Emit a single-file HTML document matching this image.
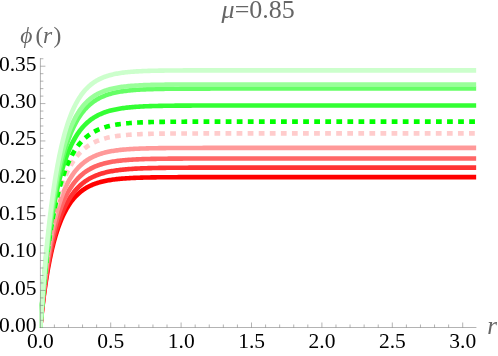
<!DOCTYPE html>
<html><head><meta charset="utf-8"><title>plot</title>
<style>html,body{margin:0;padding:0;background:#fff;}svg{display:block;will-change:transform;}text{font-family:"Liberation Serif",serif;}</style>
</head><body>
<svg width="498" height="356" viewBox="0 0 498 356">
<rect width="498" height="356" fill="#fff"/>
<defs><clipPath id="c"><rect x="39" y="0" width="437.4" height="328"/></clipPath></defs>
<g clip-path="url(#c)" fill="none" stroke-linejoin="round">
<path d="M40.30,327.80 L40.30,327.78 L40.31,327.73 L40.32,327.62 L40.33,327.46 L40.35,327.24 L40.38,326.96 L40.41,326.63 L40.45,326.23 L40.49,325.77 L40.55,325.24 L40.60,324.65 L40.67,324.00 L40.74,323.29 L40.81,322.51 L40.90,321.66 L40.99,320.75 L41.09,319.79 L41.19,318.76 L41.31,317.67 L41.43,316.52 L41.56,315.31 L41.69,314.05 L41.83,312.73 L41.98,311.36 L42.14,309.94 L42.31,308.47 L42.48,306.96 L42.66,305.40 L42.85,303.80 L43.05,302.16 L43.26,300.48 L43.47,298.76 L43.69,297.02 L43.92,295.24 L44.16,293.43 L44.41,291.60 L44.66,289.74 L44.93,287.86 L45.20,285.97 L45.48,284.05 L45.77,282.12 L46.07,280.18 L46.38,278.23 L46.69,276.28 L47.01,274.31 L47.35,272.34 L47.69,270.37 L48.04,268.40 L48.40,266.43 L48.77,264.47 L49.14,262.51 L49.53,260.56 L49.92,258.62 L50.33,256.68 L50.74,254.76 L51.16,252.85 L51.59,250.95 L52.03,249.08 L52.48,247.21 L52.94,245.37 L53.41,243.54 L53.89,241.73 L54.38,239.95 L54.87,238.18 L55.38,236.44 L55.89,234.72 L56.42,233.03 L56.95,231.36 L57.49,229.71 L58.05,228.10 L58.61,226.50 L59.18,224.94 L59.76,223.40 L60.36,221.89 L60.96,220.41 L61.57,218.96 L62.19,217.54 L62.82,216.14 L63.46,214.78 L64.11,213.44 L64.77,212.14 L65.44,210.86 L66.12,209.62 L66.81,208.40 L67.50,207.22 L68.21,206.06 L68.93,204.94 L69.66,203.84 L70.40,202.78 L71.15,201.74 L71.91,200.73 L72.68,199.75 L73.46,198.81 L74.25,197.88 L75.05,196.99 L75.86,196.13 L76.68,195.29 L77.51,194.48 L78.35,193.70 L79.20,192.95 L80.06,192.22 L80.93,191.51 L81.81,190.83 L82.70,190.18 L83.60,189.55 L84.52,188.94 L85.44,188.36 L86.37,187.80 L87.32,187.26 L88.27,186.74 L89.24,186.25 L90.21,185.77 L91.20,185.32 L92.19,184.88 L93.20,184.47 L94.22,184.07 L95.25,183.69 L96.28,183.32 L97.33,182.98 L98.39,182.65 L99.46,182.33 L100.54,182.03 L101.64,181.75 L102.74,181.47 L103.85,181.22 L104.97,180.97 L106.11,180.74 L107.25,180.52 L108.41,180.31 L109.58,180.11 L110.76,179.92 L111.94,179.74 L113.14,179.58 L114.35,179.42 L115.58,179.27 L116.81,179.13 L118.05,178.99 L119.30,178.87 L120.57,178.75 L121.85,178.64 L123.13,178.53 L124.43,178.44 L125.74,178.34 L127.06,178.26 L128.39,178.18 L129.73,178.10 L131.09,178.03 L132.45,177.96 L133.83,177.90 L135.21,177.84 L136.61,177.79 L138.02,177.74 L139.44,177.69 L140.87,177.64 L142.31,177.60 L143.76,177.56 L145.23,177.53 L146.71,177.50 L148.19,177.46 L149.69,177.44 L151.20,177.41 L152.72,177.38 L154.25,177.36 L155.80,177.34 L157.35,177.32 L158.92,177.30 L160.50,177.29 L162.09,177.27 L163.69,177.26 L165.30,177.24 L166.92,177.23 L168.56,177.22 L170.20,177.21 L171.86,177.20 L173.53,177.19 L175.21,177.18 L176.90,177.18 L178.61,177.17 L180.32,177.16 L182.05,177.16 L183.79,177.15 L185.54,177.15 L187.30,177.14 L189.07,177.14 L190.86,177.14 L192.65,177.13 L194.46,177.13 L196.28,177.13 L198.11,177.12 L199.95,177.12 L201.81,177.12 L203.67,177.12 L205.55,177.12 L207.44,177.11 L209.34,177.11 L211.26,177.11 L213.18,177.11 L215.12,177.11 L217.06,177.11 L219.03,177.11 L221.00,177.11 L222.98,177.11 L224.98,177.11 L226.98,177.10 L229.00,177.10 L231.03,177.10 L233.08,177.10 L235.13,177.10 L237.20,177.10 L239.28,177.10 L241.37,177.10 L243.47,177.10 L245.58,177.10 L247.71,177.10 L249.85,177.10 L252.00,177.10 L254.16,177.10 L256.33,177.10 L258.52,177.10 L260.72,177.10 L262.93,177.10 L265.15,177.10 L267.39,177.10 L269.63,177.10 L271.89,177.10 L274.16,177.10 L276.44,177.10 L278.74,177.10 L281.05,177.10 L283.36,177.10 L285.69,177.10 L288.04,177.10 L290.39,177.10 L292.76,177.10 L295.14,177.10 L297.53,177.10 L299.94,177.10 L302.35,177.10 L304.78,177.10 L307.22,177.10 L309.67,177.10 L312.14,177.10 L314.62,177.10 L317.11,177.10 L319.61,177.10 L322.12,177.10 L324.65,177.10 L327.19,177.10 L329.74,177.10 L332.30,177.10 L334.88,177.10 L337.47,177.10 L340.07,177.10 L342.68,177.10 L345.31,177.10 L347.94,177.10 L350.59,177.10 L353.26,177.10 L355.93,177.10 L358.62,177.10 L361.32,177.10 L364.03,177.10 L366.75,177.10 L369.49,177.10 L372.24,177.10 L375.00,177.10 L377.78,177.10 L380.56,177.10 L383.36,177.10 L386.18,177.10 L389.00,177.10 L391.84,177.10 L394.69,177.10 L397.55,177.10 L400.42,177.10 L403.31,177.10 L406.21,177.10 L409.12,177.10 L412.05,177.10 L414.99,177.10 L417.94,177.10 L420.90,177.10 L423.87,177.10 L426.86,177.10 L429.86,177.10 L432.88,177.10 L435.90,177.10 L438.94,177.10 L441.99,177.10 L445.06,177.10 L448.13,177.10 L451.22,177.10 L454.33,177.10 L457.44,177.10 L460.57,177.10 L463.71,177.10 L466.86,177.10 L470.03,177.10 L473.21,177.10 L476.40,177.10" stroke="rgb(255,0,0)" stroke-width="4.6"/>
<path d="M40.30,327.80 L40.30,327.78 L40.31,327.72 L40.32,327.61 L40.33,327.44 L40.35,327.21 L40.38,326.92 L40.41,326.57 L40.45,326.15 L40.49,325.67 L40.55,325.12 L40.60,324.51 L40.67,323.82 L40.74,323.08 L40.81,322.26 L40.90,321.38 L40.99,320.43 L41.09,319.41 L41.19,318.34 L41.31,317.19 L41.43,315.99 L41.56,314.73 L41.69,313.41 L41.83,312.03 L41.98,310.60 L42.14,309.12 L42.31,307.58 L42.48,306.00 L42.66,304.37 L42.85,302.70 L43.05,300.98 L43.26,299.23 L43.47,297.44 L43.69,295.61 L43.92,293.76 L44.16,291.87 L44.41,289.96 L44.66,288.02 L44.93,286.07 L45.20,284.09 L45.48,282.09 L45.77,280.08 L46.07,278.06 L46.38,276.03 L46.69,273.99 L47.01,271.95 L47.35,269.90 L47.69,267.85 L48.04,265.80 L48.40,263.75 L48.77,261.71 L49.14,259.67 L49.53,257.64 L49.92,255.62 L50.33,253.61 L50.74,251.61 L51.16,249.62 L51.59,247.65 L52.03,245.70 L52.48,243.76 L52.94,241.84 L53.41,239.94 L53.89,238.06 L54.38,236.20 L54.87,234.36 L55.38,232.55 L55.89,230.75 L56.42,228.99 L56.95,227.24 L57.49,225.53 L58.05,223.83 L58.61,222.17 L59.18,220.53 L59.76,218.92 L60.36,217.34 L60.96,215.78 L61.57,214.26 L62.19,212.76 L62.82,211.29 L63.46,209.85 L64.11,208.44 L64.77,207.05 L65.44,205.70 L66.12,204.38 L66.81,203.08 L67.50,201.82 L68.21,200.59 L68.93,199.38 L69.66,198.21 L70.40,197.06 L71.15,195.94 L71.91,194.86 L72.68,193.80 L73.46,192.77 L74.25,191.77 L75.05,190.80 L75.86,189.85 L76.68,188.93 L77.51,188.04 L78.35,187.18 L79.20,186.35 L80.06,185.54 L80.93,184.76 L81.81,184.00 L82.70,183.27 L83.60,182.56 L84.52,181.88 L85.44,181.22 L86.37,180.59 L87.32,179.98 L88.27,179.39 L89.24,178.82 L90.21,178.27 L91.20,177.75 L92.19,177.25 L93.20,176.76 L94.22,176.30 L95.25,175.86 L96.28,175.43 L97.33,175.02 L98.39,174.63 L99.46,174.26 L100.54,173.90 L101.64,173.56 L102.74,173.23 L103.85,172.92 L104.97,172.62 L106.11,172.34 L107.25,172.07 L108.41,171.82 L109.58,171.57 L110.76,171.34 L111.94,171.12 L113.14,170.91 L114.35,170.71 L115.58,170.53 L116.81,170.35 L118.05,170.18 L119.30,170.02 L120.57,169.87 L121.85,169.72 L123.13,169.59 L124.43,169.46 L125.74,169.34 L127.06,169.23 L128.39,169.12 L129.73,169.02 L131.09,168.93 L132.45,168.84 L133.83,168.75 L135.21,168.67 L136.61,168.60 L138.02,168.53 L139.44,168.47 L140.87,168.40 L142.31,168.35 L143.76,168.29 L145.23,168.24 L146.71,168.20 L148.19,168.15 L149.69,168.11 L151.20,168.08 L152.72,168.04 L154.25,168.01 L155.80,167.98 L157.35,167.95 L158.92,167.92 L160.50,167.90 L162.09,167.87 L163.69,167.85 L165.30,167.83 L166.92,167.81 L168.56,167.80 L170.20,167.78 L171.86,167.77 L173.53,167.75 L175.21,167.74 L176.90,167.73 L178.61,167.72 L180.32,167.71 L182.05,167.70 L183.79,167.69 L185.54,167.68 L187.30,167.68 L189.07,167.67 L190.86,167.66 L192.65,167.66 L194.46,167.65 L196.28,167.65 L198.11,167.64 L199.95,167.64 L201.81,167.64 L203.67,167.63 L205.55,167.63 L207.44,167.63 L209.34,167.62 L211.26,167.62 L213.18,167.62 L215.12,167.62 L217.06,167.62 L219.03,167.61 L221.00,167.61 L222.98,167.61 L224.98,167.61 L226.98,167.61 L229.00,167.61 L231.03,167.61 L233.08,167.61 L235.13,167.61 L237.20,167.61 L239.28,167.61 L241.37,167.60 L243.47,167.60 L245.58,167.60 L247.71,167.60 L249.85,167.60 L252.00,167.60 L254.16,167.60 L256.33,167.60 L258.52,167.60 L260.72,167.60 L262.93,167.60 L265.15,167.60 L267.39,167.60 L269.63,167.60 L271.89,167.60 L274.16,167.60 L276.44,167.60 L278.74,167.60 L281.05,167.60 L283.36,167.60 L285.69,167.60 L288.04,167.60 L290.39,167.60 L292.76,167.60 L295.14,167.60 L297.53,167.60 L299.94,167.60 L302.35,167.60 L304.78,167.60 L307.22,167.60 L309.67,167.60 L312.14,167.60 L314.62,167.60 L317.11,167.60 L319.61,167.60 L322.12,167.60 L324.65,167.60 L327.19,167.60 L329.74,167.60 L332.30,167.60 L334.88,167.60 L337.47,167.60 L340.07,167.60 L342.68,167.60 L345.31,167.60 L347.94,167.60 L350.59,167.60 L353.26,167.60 L355.93,167.60 L358.62,167.60 L361.32,167.60 L364.03,167.60 L366.75,167.60 L369.49,167.60 L372.24,167.60 L375.00,167.60 L377.78,167.60 L380.56,167.60 L383.36,167.60 L386.18,167.60 L389.00,167.60 L391.84,167.60 L394.69,167.60 L397.55,167.60 L400.42,167.60 L403.31,167.60 L406.21,167.60 L409.12,167.60 L412.05,167.60 L414.99,167.60 L417.94,167.60 L420.90,167.60 L423.87,167.60 L426.86,167.60 L429.86,167.60 L432.88,167.60 L435.90,167.60 L438.94,167.60 L441.99,167.60 L445.06,167.60 L448.13,167.60 L451.22,167.60 L454.33,167.60 L457.44,167.60 L460.57,167.60 L463.71,167.60 L466.86,167.60 L470.03,167.60 L473.21,167.60 L476.40,167.60" stroke="rgb(255,51,51)" stroke-width="4.6"/>
<path d="M40.30,327.80 L40.30,327.78 L40.31,327.71 L40.32,327.59 L40.33,327.41 L40.35,327.16 L40.38,326.84 L40.41,326.46 L40.45,326.00 L40.49,325.48 L40.55,324.88 L40.60,324.21 L40.67,323.46 L40.74,322.65 L40.81,321.76 L40.90,320.80 L40.99,319.76 L41.09,318.66 L41.19,317.48 L41.31,316.24 L41.43,314.94 L41.56,313.56 L41.69,312.13 L41.83,310.63 L41.98,309.08 L42.14,307.47 L42.31,305.80 L42.48,304.08 L42.66,302.32 L42.85,300.50 L43.05,298.65 L43.26,296.75 L43.47,294.81 L43.69,292.84 L43.92,290.83 L44.16,288.79 L44.41,286.73 L44.66,284.64 L44.93,282.53 L45.20,280.40 L45.48,278.25 L45.77,276.08 L46.07,273.91 L46.38,271.73 L46.69,269.53 L47.01,267.34 L47.35,265.14 L47.69,262.94 L48.04,260.75 L48.40,258.55 L48.77,256.37 L49.14,254.19 L49.53,252.02 L49.92,249.86 L50.33,247.71 L50.74,245.58 L51.16,243.46 L51.59,241.36 L52.03,239.28 L52.48,237.22 L52.94,235.18 L53.41,233.16 L53.89,231.17 L54.38,229.19 L54.87,227.24 L55.38,225.32 L55.89,223.43 L56.42,221.56 L56.95,219.72 L57.49,217.90 L58.05,216.12 L58.61,214.36 L59.18,212.64 L59.76,210.94 L60.36,209.27 L60.96,207.64 L61.57,206.04 L62.19,204.46 L62.82,202.92 L63.46,201.41 L64.11,199.94 L64.77,198.49 L65.44,197.08 L66.12,195.70 L66.81,194.35 L67.50,193.04 L68.21,191.75 L68.93,190.50 L69.66,189.28 L70.40,188.09 L71.15,186.94 L71.91,185.81 L72.68,184.72 L73.46,183.66 L74.25,182.63 L75.05,181.63 L75.86,180.65 L76.68,179.71 L77.51,178.80 L78.35,177.92 L79.20,177.06 L80.06,176.24 L80.93,175.44 L81.81,174.67 L82.70,173.93 L83.60,173.21 L84.52,172.52 L85.44,171.85 L86.37,171.21 L87.32,170.59 L88.27,170.00 L89.24,169.43 L90.21,168.88 L91.20,168.35 L92.19,167.85 L93.20,167.37 L94.22,166.90 L95.25,166.46 L96.28,166.04 L97.33,165.63 L98.39,165.24 L99.46,164.87 L100.54,164.52 L101.64,164.18 L102.74,163.86 L103.85,163.56 L104.97,163.27 L106.11,162.99 L107.25,162.73 L108.41,162.48 L109.58,162.24 L110.76,162.02 L111.94,161.80 L113.14,161.60 L114.35,161.41 L115.58,161.23 L116.81,161.06 L118.05,160.89 L119.30,160.74 L120.57,160.60 L121.85,160.46 L123.13,160.33 L124.43,160.21 L125.74,160.10 L127.06,159.99 L128.39,159.89 L129.73,159.79 L131.09,159.70 L132.45,159.62 L133.83,159.54 L135.21,159.47 L136.61,159.40 L138.02,159.34 L139.44,159.28 L140.87,159.22 L142.31,159.17 L143.76,159.12 L145.23,159.07 L146.71,159.03 L148.19,158.99 L149.69,158.95 L151.20,158.92 L152.72,158.89 L154.25,158.86 L155.80,158.83 L157.35,158.80 L158.92,158.78 L160.50,158.76 L162.09,158.74 L163.69,158.72 L165.30,158.70 L166.92,158.68 L168.56,158.67 L170.20,158.65 L171.86,158.64 L173.53,158.63 L175.21,158.62 L176.90,158.61 L178.61,158.60 L180.32,158.59 L182.05,158.58 L183.79,158.57 L185.54,158.57 L187.30,158.56 L189.07,158.56 L190.86,158.55 L192.65,158.55 L194.46,158.54 L196.28,158.54 L198.11,158.54 L199.95,158.53 L201.81,158.53 L203.67,158.53 L205.55,158.52 L207.44,158.52 L209.34,158.52 L211.26,158.52 L213.18,158.52 L215.12,158.51 L217.06,158.51 L219.03,158.51 L221.00,158.51 L222.98,158.51 L224.98,158.51 L226.98,158.51 L229.00,158.51 L231.03,158.51 L233.08,158.51 L235.13,158.51 L237.20,158.50 L239.28,158.50 L241.37,158.50 L243.47,158.50 L245.58,158.50 L247.71,158.50 L249.85,158.50 L252.00,158.50 L254.16,158.50 L256.33,158.50 L258.52,158.50 L260.72,158.50 L262.93,158.50 L265.15,158.50 L267.39,158.50 L269.63,158.50 L271.89,158.50 L274.16,158.50 L276.44,158.50 L278.74,158.50 L281.05,158.50 L283.36,158.50 L285.69,158.50 L288.04,158.50 L290.39,158.50 L292.76,158.50 L295.14,158.50 L297.53,158.50 L299.94,158.50 L302.35,158.50 L304.78,158.50 L307.22,158.50 L309.67,158.50 L312.14,158.50 L314.62,158.50 L317.11,158.50 L319.61,158.50 L322.12,158.50 L324.65,158.50 L327.19,158.50 L329.74,158.50 L332.30,158.50 L334.88,158.50 L337.47,158.50 L340.07,158.50 L342.68,158.50 L345.31,158.50 L347.94,158.50 L350.59,158.50 L353.26,158.50 L355.93,158.50 L358.62,158.50 L361.32,158.50 L364.03,158.50 L366.75,158.50 L369.49,158.50 L372.24,158.50 L375.00,158.50 L377.78,158.50 L380.56,158.50 L383.36,158.50 L386.18,158.50 L389.00,158.50 L391.84,158.50 L394.69,158.50 L397.55,158.50 L400.42,158.50 L403.31,158.50 L406.21,158.50 L409.12,158.50 L412.05,158.50 L414.99,158.50 L417.94,158.50 L420.90,158.50 L423.87,158.50 L426.86,158.50 L429.86,158.50 L432.88,158.50 L435.90,158.50 L438.94,158.50 L441.99,158.50 L445.06,158.50 L448.13,158.50 L451.22,158.50 L454.33,158.50 L457.44,158.50 L460.57,158.50 L463.71,158.50 L466.86,158.50 L470.03,158.50 L473.21,158.50 L476.40,158.50" stroke="rgb(255,102,102)" stroke-width="4.6"/>
<path d="M40.30,327.80 L40.30,327.78 L40.31,327.71 L40.32,327.57 L40.33,327.37 L40.35,327.10 L40.38,326.76 L40.41,326.34 L40.45,325.85 L40.49,325.27 L40.55,324.62 L40.60,323.89 L40.67,323.08 L40.74,322.19 L40.81,321.23 L40.90,320.18 L40.99,319.06 L41.09,317.86 L41.19,316.58 L41.31,315.24 L41.43,313.82 L41.56,312.33 L41.69,310.77 L41.83,309.15 L41.98,307.46 L42.14,305.71 L42.31,303.91 L42.48,302.05 L42.66,300.14 L42.85,298.17 L43.05,296.16 L43.26,294.11 L43.47,292.01 L43.69,289.88 L43.92,287.71 L44.16,285.51 L44.41,283.28 L44.66,281.03 L44.93,278.75 L45.20,276.45 L45.48,274.14 L45.77,271.81 L46.07,269.47 L46.38,267.12 L46.69,264.76 L47.01,262.40 L47.35,260.04 L47.69,257.68 L48.04,255.32 L48.40,252.97 L48.77,250.62 L49.14,248.29 L49.53,245.96 L49.92,243.65 L50.33,241.35 L50.74,239.07 L51.16,236.81 L51.59,234.57 L52.03,232.34 L52.48,230.14 L52.94,227.97 L53.41,225.81 L53.89,223.69 L54.38,221.59 L54.87,219.51 L55.38,217.47 L55.89,215.45 L56.42,213.46 L56.95,211.51 L57.49,209.58 L58.05,207.69 L58.61,205.83 L59.18,204.00 L59.76,202.20 L60.36,200.44 L60.96,198.71 L61.57,197.02 L62.19,195.36 L62.82,193.73 L63.46,192.14 L64.11,190.58 L64.77,189.06 L65.44,187.58 L66.12,186.12 L66.81,184.71 L67.50,183.33 L68.21,181.98 L68.93,180.67 L69.66,179.39 L70.40,178.15 L71.15,176.94 L71.91,175.76 L72.68,174.62 L73.46,173.52 L74.25,172.44 L75.05,171.40 L75.86,170.39 L76.68,169.41 L77.51,168.47 L78.35,167.55 L79.20,166.67 L80.06,165.81 L80.93,164.99 L81.81,164.19 L82.70,163.42 L83.60,162.69 L84.52,161.97 L85.44,161.29 L86.37,160.63 L87.32,160.00 L88.27,159.39 L89.24,158.81 L90.21,158.25 L91.20,157.71 L92.19,157.20 L93.20,156.70 L94.22,156.23 L95.25,155.78 L96.28,155.35 L97.33,154.94 L98.39,154.55 L99.46,154.18 L100.54,153.82 L101.64,153.48 L102.74,153.16 L103.85,152.85 L104.97,152.56 L106.11,152.29 L107.25,152.02 L108.41,151.77 L109.58,151.54 L110.76,151.31 L111.94,151.10 L113.14,150.90 L114.35,150.71 L115.58,150.53 L116.81,150.36 L118.05,150.20 L119.30,150.05 L120.57,149.91 L121.85,149.78 L123.13,149.65 L124.43,149.53 L125.74,149.42 L127.06,149.32 L128.39,149.22 L129.73,149.13 L131.09,149.04 L132.45,148.96 L133.83,148.88 L135.21,148.81 L136.61,148.75 L138.02,148.68 L139.44,148.63 L140.87,148.57 L142.31,148.52 L143.76,148.47 L145.23,148.43 L146.71,148.39 L148.19,148.35 L149.69,148.32 L151.20,148.28 L152.72,148.25 L154.25,148.23 L155.80,148.20 L157.35,148.18 L158.92,148.15 L160.50,148.13 L162.09,148.11 L163.69,148.10 L165.30,148.08 L166.92,148.06 L168.56,148.05 L170.20,148.04 L171.86,148.03 L173.53,148.02 L175.21,148.01 L176.90,148.00 L178.61,147.99 L180.32,147.98 L182.05,147.97 L183.79,147.97 L185.54,147.96 L187.30,147.95 L189.07,147.95 L190.86,147.95 L192.65,147.94 L194.46,147.94 L196.28,147.93 L198.11,147.93 L199.95,147.93 L201.81,147.93 L203.67,147.92 L205.55,147.92 L207.44,147.92 L209.34,147.92 L211.26,147.92 L213.18,147.91 L215.12,147.91 L217.06,147.91 L219.03,147.91 L221.00,147.91 L222.98,147.91 L224.98,147.91 L226.98,147.91 L229.00,147.91 L231.03,147.91 L233.08,147.90 L235.13,147.90 L237.20,147.90 L239.28,147.90 L241.37,147.90 L243.47,147.90 L245.58,147.90 L247.71,147.90 L249.85,147.90 L252.00,147.90 L254.16,147.90 L256.33,147.90 L258.52,147.90 L260.72,147.90 L262.93,147.90 L265.15,147.90 L267.39,147.90 L269.63,147.90 L271.89,147.90 L274.16,147.90 L276.44,147.90 L278.74,147.90 L281.05,147.90 L283.36,147.90 L285.69,147.90 L288.04,147.90 L290.39,147.90 L292.76,147.90 L295.14,147.90 L297.53,147.90 L299.94,147.90 L302.35,147.90 L304.78,147.90 L307.22,147.90 L309.67,147.90 L312.14,147.90 L314.62,147.90 L317.11,147.90 L319.61,147.90 L322.12,147.90 L324.65,147.90 L327.19,147.90 L329.74,147.90 L332.30,147.90 L334.88,147.90 L337.47,147.90 L340.07,147.90 L342.68,147.90 L345.31,147.90 L347.94,147.90 L350.59,147.90 L353.26,147.90 L355.93,147.90 L358.62,147.90 L361.32,147.90 L364.03,147.90 L366.75,147.90 L369.49,147.90 L372.24,147.90 L375.00,147.90 L377.78,147.90 L380.56,147.90 L383.36,147.90 L386.18,147.90 L389.00,147.90 L391.84,147.90 L394.69,147.90 L397.55,147.90 L400.42,147.90 L403.31,147.90 L406.21,147.90 L409.12,147.90 L412.05,147.90 L414.99,147.90 L417.94,147.90 L420.90,147.90 L423.87,147.90 L426.86,147.90 L429.86,147.90 L432.88,147.90 L435.90,147.90 L438.94,147.90 L441.99,147.90 L445.06,147.90 L448.13,147.90 L451.22,147.90 L454.33,147.90 L457.44,147.90 L460.57,147.90 L463.71,147.90 L466.86,147.90 L470.03,147.90 L473.21,147.90 L476.40,147.90" stroke="rgb(255,153,153)" stroke-width="4.6"/>
<path d="M40.30,327.80 L40.30,327.78 L40.31,327.70 L40.32,327.55 L40.33,327.34 L40.35,327.04 L40.38,326.67 L40.41,326.22 L40.45,325.69 L40.49,325.07 L40.55,324.36 L40.60,323.57 L40.67,322.69 L40.74,321.73 L40.81,320.69 L40.90,319.55 L40.99,318.34 L41.09,317.04 L41.19,315.66 L41.31,314.20 L41.43,312.67 L41.56,311.06 L41.69,309.37 L41.83,307.61 L41.98,305.79 L42.14,303.90 L42.31,301.95 L42.48,299.93 L42.66,297.86 L42.85,295.74 L43.05,293.56 L43.26,291.34 L43.47,289.08 L43.69,286.77 L43.92,284.42 L44.16,282.04 L44.41,279.63 L44.66,277.19 L44.93,274.73 L45.20,272.24 L45.48,269.74 L45.77,267.22 L46.07,264.69 L46.38,262.15 L46.69,259.60 L47.01,257.05 L47.35,254.49 L47.69,251.94 L48.04,249.39 L48.40,246.84 L48.77,244.31 L49.14,241.78 L49.53,239.27 L49.92,236.77 L50.33,234.29 L50.74,231.82 L51.16,229.38 L51.59,226.95 L52.03,224.55 L52.48,222.17 L52.94,219.82 L53.41,217.49 L53.89,215.19 L54.38,212.92 L54.87,210.68 L55.38,208.47 L55.89,206.29 L56.42,204.14 L56.95,202.03 L57.49,199.95 L58.05,197.90 L58.61,195.89 L59.18,193.92 L59.76,191.98 L60.36,190.07 L60.96,188.21 L61.57,186.38 L62.19,184.58 L62.82,182.83 L63.46,181.11 L64.11,179.43 L64.77,177.78 L65.44,176.18 L66.12,174.61 L66.81,173.08 L67.50,171.59 L68.21,170.14 L68.93,168.72 L69.66,167.34 L70.40,166.00 L71.15,164.69 L71.91,163.43 L72.68,162.19 L73.46,161.00 L74.25,159.84 L75.05,158.72 L75.86,157.63 L76.68,156.57 L77.51,155.55 L78.35,154.56 L79.20,153.61 L80.06,152.69 L80.93,151.80 L81.81,150.94 L82.70,150.11 L83.60,149.32 L84.52,148.55 L85.44,147.81 L86.37,147.10 L87.32,146.42 L88.27,145.76 L89.24,145.13 L90.21,144.53 L91.20,143.95 L92.19,143.40 L93.20,142.87 L94.22,142.36 L95.25,141.88 L96.28,141.42 L97.33,140.97 L98.39,140.55 L99.46,140.15 L100.54,139.77 L101.64,139.40 L102.74,139.05 L103.85,138.72 L104.97,138.41 L106.11,138.11 L107.25,137.83 L108.41,137.56 L109.58,137.31 L110.76,137.07 L111.94,136.84 L113.14,136.62 L114.35,136.42 L115.58,136.22 L116.81,136.04 L118.05,135.87 L119.30,135.71 L120.57,135.56 L121.85,135.41 L123.13,135.28 L124.43,135.15 L125.74,135.03 L127.06,134.92 L128.39,134.81 L129.73,134.71 L131.09,134.62 L132.45,134.53 L133.83,134.45 L135.21,134.38 L136.61,134.31 L138.02,134.24 L139.44,134.18 L140.87,134.12 L142.31,134.07 L143.76,134.02 L145.23,133.97 L146.71,133.93 L148.19,133.88 L149.69,133.85 L151.20,133.81 L152.72,133.78 L154.25,133.75 L155.80,133.72 L157.35,133.70 L158.92,133.67 L160.50,133.65 L162.09,133.63 L163.69,133.61 L165.30,133.59 L166.92,133.58 L168.56,133.56 L170.20,133.55 L171.86,133.53 L173.53,133.52 L175.21,133.51 L176.90,133.50 L178.61,133.49 L180.32,133.49 L182.05,133.48 L183.79,133.47 L185.54,133.46 L187.30,133.46 L189.07,133.45 L190.86,133.45 L192.65,133.44 L194.46,133.44 L196.28,133.44 L198.11,133.43 L199.95,133.43 L201.81,133.43 L203.67,133.42 L205.55,133.42 L207.44,133.42 L209.34,133.42 L211.26,133.42 L213.18,133.41 L215.12,133.41 L217.06,133.41 L219.03,133.41 L221.00,133.41 L222.98,133.41 L224.98,133.41 L226.98,133.41 L229.00,133.41 L231.03,133.41 L233.08,133.40 L235.13,133.40 L237.20,133.40 L239.28,133.40 L241.37,133.40 L243.47,133.40 L245.58,133.40 L247.71,133.40 L249.85,133.40 L252.00,133.40 L254.16,133.40 L256.33,133.40 L258.52,133.40 L260.72,133.40 L262.93,133.40 L265.15,133.40 L267.39,133.40 L269.63,133.40 L271.89,133.40 L274.16,133.40 L276.44,133.40 L278.74,133.40 L281.05,133.40 L283.36,133.40 L285.69,133.40 L288.04,133.40 L290.39,133.40 L292.76,133.40 L295.14,133.40 L297.53,133.40 L299.94,133.40 L302.35,133.40 L304.78,133.40 L307.22,133.40 L309.67,133.40 L312.14,133.40 L314.62,133.40 L317.11,133.40 L319.61,133.40 L322.12,133.40 L324.65,133.40 L327.19,133.40 L329.74,133.40 L332.30,133.40 L334.88,133.40 L337.47,133.40 L340.07,133.40 L342.68,133.40 L345.31,133.40 L347.94,133.40 L350.59,133.40 L353.26,133.40 L355.93,133.40 L358.62,133.40 L361.32,133.40 L364.03,133.40 L366.75,133.40 L369.49,133.40 L372.24,133.40 L375.00,133.40 L377.78,133.40 L380.56,133.40 L383.36,133.40 L386.18,133.40 L389.00,133.40 L391.84,133.40 L394.69,133.40 L397.55,133.40 L400.42,133.40 L403.31,133.40 L406.21,133.40 L409.12,133.40 L412.05,133.40 L414.99,133.40 L417.94,133.40 L420.90,133.40 L423.87,133.40 L426.86,133.40 L429.86,133.40 L432.88,133.40 L435.90,133.40 L438.94,133.40 L441.99,133.40 L445.06,133.40 L448.13,133.40 L451.22,133.40 L454.33,133.40 L457.44,133.40 L460.57,133.40 L463.71,133.40 L466.86,133.40 L470.03,133.40 L473.21,133.40 L476.40,133.40" stroke="rgb(255,204,204)" stroke-width="4.6" stroke-dasharray="5.76 5.308" stroke-dashoffset="-0.02"/>
<path d="M40.30,327.80 L40.30,327.78 L40.31,327.70 L40.32,327.56 L40.33,327.35 L40.35,327.07 L40.38,326.71 L40.41,326.27 L40.45,325.75 L40.49,325.15 L40.55,324.46 L40.60,323.69 L40.67,322.84 L40.74,321.90 L40.81,320.88 L40.90,319.78 L40.99,318.59 L41.09,317.32 L41.19,315.97 L41.31,314.54 L41.43,313.03 L41.56,311.45 L41.69,309.79 L41.83,308.06 L41.98,306.25 L42.14,304.38 L42.31,302.45 L42.48,300.45 L42.66,298.39 L42.85,296.27 L43.05,294.09 L43.26,291.87 L43.47,289.59 L43.69,287.27 L43.92,284.90 L44.16,282.49 L44.41,280.05 L44.66,277.57 L44.93,275.06 L45.20,272.52 L45.48,269.95 L45.77,267.37 L46.07,264.76 L46.38,262.13 L46.69,259.50 L47.01,256.85 L47.35,254.19 L47.69,251.52 L48.04,248.86 L48.40,246.19 L48.77,243.52 L49.14,240.86 L49.53,238.20 L49.92,235.55 L50.33,232.91 L50.74,230.29 L51.16,227.68 L51.59,225.08 L52.03,222.50 L52.48,219.95 L52.94,217.41 L53.41,214.90 L53.89,212.41 L54.38,209.95 L54.87,207.51 L55.38,205.11 L55.89,202.73 L56.42,200.39 L56.95,198.07 L57.49,195.79 L58.05,193.55 L58.61,191.34 L59.18,189.16 L59.76,187.02 L60.36,184.92 L60.96,182.86 L61.57,180.83 L62.19,178.85 L62.82,176.90 L63.46,174.99 L64.11,173.13 L64.77,171.30 L65.44,169.51 L66.12,167.77 L66.81,166.06 L67.50,164.40 L68.21,162.78 L68.93,161.20 L69.66,159.66 L70.40,158.16 L71.15,156.70 L71.91,155.28 L72.68,153.90 L73.46,152.57 L74.25,151.27 L75.05,150.01 L75.86,148.79 L76.68,147.61 L77.51,146.46 L78.35,145.36 L79.20,144.29 L80.06,143.25 L80.93,142.26 L81.81,141.29 L82.70,140.36 L83.60,139.47 L84.52,138.61 L85.44,137.78 L86.37,136.98 L87.32,136.22 L88.27,135.48 L89.24,134.78 L90.21,134.10 L91.20,133.45 L92.19,132.83 L93.20,132.24 L94.22,131.67 L95.25,131.12 L96.28,130.60 L97.33,130.11 L98.39,129.63 L99.46,129.18 L100.54,128.75 L101.64,128.34 L102.74,127.95 L103.85,127.58 L104.97,127.23 L106.11,126.89 L107.25,126.57 L108.41,126.27 L109.58,125.99 L110.76,125.72 L111.94,125.46 L113.14,125.22 L114.35,124.99 L115.58,124.77 L116.81,124.57 L118.05,124.38 L119.30,124.19 L120.57,124.02 L121.85,123.86 L123.13,123.71 L124.43,123.57 L125.74,123.43 L127.06,123.31 L128.39,123.19 L129.73,123.08 L131.09,122.97 L132.45,122.87 L133.83,122.78 L135.21,122.70 L136.61,122.62 L138.02,122.54 L139.44,122.47 L140.87,122.41 L142.31,122.35 L143.76,122.29 L145.23,122.24 L146.71,122.19 L148.19,122.14 L149.69,122.10 L151.20,122.06 L152.72,122.03 L154.25,121.99 L155.80,121.96 L157.35,121.93 L158.92,121.90 L160.50,121.88 L162.09,121.86 L163.69,121.84 L165.30,121.82 L166.92,121.80 L168.56,121.78 L170.20,121.77 L171.86,121.75 L173.53,121.74 L175.21,121.73 L176.90,121.72 L178.61,121.71 L180.32,121.70 L182.05,121.69 L183.79,121.68 L185.54,121.67 L187.30,121.67 L189.07,121.66 L190.86,121.65 L192.65,121.65 L194.46,121.64 L196.28,121.64 L198.11,121.64 L199.95,121.63 L201.81,121.63 L203.67,121.63 L205.55,121.62 L207.44,121.62 L209.34,121.62 L211.26,121.62 L213.18,121.62 L215.12,121.61 L217.06,121.61 L219.03,121.61 L221.00,121.61 L222.98,121.61 L224.98,121.61 L226.98,121.61 L229.00,121.61 L231.03,121.61 L233.08,121.61 L235.13,121.60 L237.20,121.60 L239.28,121.60 L241.37,121.60 L243.47,121.60 L245.58,121.60 L247.71,121.60 L249.85,121.60 L252.00,121.60 L254.16,121.60 L256.33,121.60 L258.52,121.60 L260.72,121.60 L262.93,121.60 L265.15,121.60 L267.39,121.60 L269.63,121.60 L271.89,121.60 L274.16,121.60 L276.44,121.60 L278.74,121.60 L281.05,121.60 L283.36,121.60 L285.69,121.60 L288.04,121.60 L290.39,121.60 L292.76,121.60 L295.14,121.60 L297.53,121.60 L299.94,121.60 L302.35,121.60 L304.78,121.60 L307.22,121.60 L309.67,121.60 L312.14,121.60 L314.62,121.60 L317.11,121.60 L319.61,121.60 L322.12,121.60 L324.65,121.60 L327.19,121.60 L329.74,121.60 L332.30,121.60 L334.88,121.60 L337.47,121.60 L340.07,121.60 L342.68,121.60 L345.31,121.60 L347.94,121.60 L350.59,121.60 L353.26,121.60 L355.93,121.60 L358.62,121.60 L361.32,121.60 L364.03,121.60 L366.75,121.60 L369.49,121.60 L372.24,121.60 L375.00,121.60 L377.78,121.60 L380.56,121.60 L383.36,121.60 L386.18,121.60 L389.00,121.60 L391.84,121.60 L394.69,121.60 L397.55,121.60 L400.42,121.60 L403.31,121.60 L406.21,121.60 L409.12,121.60 L412.05,121.60 L414.99,121.60 L417.94,121.60 L420.90,121.60 L423.87,121.60 L426.86,121.60 L429.86,121.60 L432.88,121.60 L435.90,121.60 L438.94,121.60 L441.99,121.60 L445.06,121.60 L448.13,121.60 L451.22,121.60 L454.33,121.60 L457.44,121.60 L460.57,121.60 L463.71,121.60 L466.86,121.60 L470.03,121.60 L473.21,121.60 L476.40,121.60" stroke="rgb(0,255,0)" stroke-width="4.6" stroke-dasharray="5.76 5.308" stroke-dashoffset="0.98"/>
<path d="M40.30,327.80 L40.30,327.78 L40.31,327.70 L40.32,327.55 L40.33,327.33 L40.35,327.04 L40.38,326.66 L40.41,326.20 L40.45,325.66 L40.49,325.03 L40.55,324.31 L40.60,323.51 L40.67,322.62 L40.74,321.64 L40.81,320.57 L40.90,319.42 L40.99,318.18 L41.09,316.85 L41.19,315.43 L41.31,313.94 L41.43,312.36 L41.56,310.70 L41.69,308.96 L41.83,307.14 L41.98,305.25 L42.14,303.29 L42.31,301.26 L42.48,299.16 L42.66,296.99 L42.85,294.77 L43.05,292.48 L43.26,290.14 L43.47,287.74 L43.69,285.30 L43.92,282.80 L44.16,280.27 L44.41,277.69 L44.66,275.08 L44.93,272.43 L45.20,269.74 L45.48,267.03 L45.77,264.30 L46.07,261.54 L46.38,258.76 L46.69,255.97 L47.01,253.16 L47.35,250.34 L47.69,247.51 L48.04,244.68 L48.40,241.85 L48.77,239.01 L49.14,236.18 L49.53,233.35 L49.92,230.53 L50.33,227.72 L50.74,224.92 L51.16,222.13 L51.59,219.36 L52.03,216.60 L52.48,213.87 L52.94,211.15 L53.41,208.46 L53.89,205.80 L54.38,203.15 L54.87,200.54 L55.38,197.96 L55.89,195.40 L56.42,192.88 L56.95,190.39 L57.49,187.93 L58.05,185.51 L58.61,183.12 L59.18,180.77 L59.76,178.46 L60.36,176.18 L60.96,173.95 L61.57,171.75 L62.19,169.59 L62.82,167.48 L63.46,165.40 L64.11,163.37 L64.77,161.38 L65.44,159.43 L66.12,157.53 L66.81,155.66 L67.50,153.84 L68.21,152.07 L68.93,150.33 L69.66,148.64 L70.40,146.99 L71.15,145.39 L71.91,143.82 L72.68,142.30 L73.46,140.83 L74.25,139.39 L75.05,137.99 L75.86,136.64 L76.68,135.33 L77.51,134.06 L78.35,132.82 L79.20,131.63 L80.06,130.48 L80.93,129.36 L81.81,128.28 L82.70,127.24 L83.60,126.24 L84.52,125.27 L85.44,124.34 L86.37,123.44 L87.32,122.57 L88.27,121.74 L89.24,120.94 L90.21,120.17 L91.20,119.43 L92.19,118.72 L93.20,118.04 L94.22,117.39 L95.25,116.77 L96.28,116.17 L97.33,115.60 L98.39,115.06 L99.46,114.54 L100.54,114.04 L101.64,113.56 L102.74,113.11 L103.85,112.68 L104.97,112.27 L106.11,111.88 L107.25,111.51 L108.41,111.16 L109.58,110.82 L110.76,110.50 L111.94,110.20 L113.14,109.91 L114.35,109.64 L115.58,109.39 L116.81,109.14 L118.05,108.91 L119.30,108.70 L120.57,108.49 L121.85,108.30 L123.13,108.12 L124.43,107.94 L125.74,107.78 L127.06,107.63 L128.39,107.49 L129.73,107.35 L131.09,107.23 L132.45,107.11 L133.83,106.99 L135.21,106.89 L136.61,106.79 L138.02,106.70 L139.44,106.61 L140.87,106.53 L142.31,106.46 L143.76,106.39 L145.23,106.32 L146.71,106.26 L148.19,106.20 L149.69,106.15 L151.20,106.10 L152.72,106.06 L154.25,106.01 L155.80,105.97 L157.35,105.94 L158.92,105.90 L160.50,105.87 L162.09,105.84 L163.69,105.81 L165.30,105.79 L166.92,105.76 L168.56,105.74 L170.20,105.72 L171.86,105.70 L173.53,105.69 L175.21,105.67 L176.90,105.66 L178.61,105.64 L180.32,105.63 L182.05,105.62 L183.79,105.61 L185.54,105.60 L187.30,105.59 L189.07,105.58 L190.86,105.58 L192.65,105.57 L194.46,105.56 L196.28,105.56 L198.11,105.55 L199.95,105.55 L201.81,105.54 L203.67,105.54 L205.55,105.53 L207.44,105.53 L209.34,105.53 L211.26,105.53 L213.18,105.52 L215.12,105.52 L217.06,105.52 L219.03,105.52 L221.00,105.52 L222.98,105.51 L224.98,105.51 L226.98,105.51 L229.00,105.51 L231.03,105.51 L233.08,105.51 L235.13,105.51 L237.20,105.51 L239.28,105.51 L241.37,105.51 L243.47,105.50 L245.58,105.50 L247.71,105.50 L249.85,105.50 L252.00,105.50 L254.16,105.50 L256.33,105.50 L258.52,105.50 L260.72,105.50 L262.93,105.50 L265.15,105.50 L267.39,105.50 L269.63,105.50 L271.89,105.50 L274.16,105.50 L276.44,105.50 L278.74,105.50 L281.05,105.50 L283.36,105.50 L285.69,105.50 L288.04,105.50 L290.39,105.50 L292.76,105.50 L295.14,105.50 L297.53,105.50 L299.94,105.50 L302.35,105.50 L304.78,105.50 L307.22,105.50 L309.67,105.50 L312.14,105.50 L314.62,105.50 L317.11,105.50 L319.61,105.50 L322.12,105.50 L324.65,105.50 L327.19,105.50 L329.74,105.50 L332.30,105.50 L334.88,105.50 L337.47,105.50 L340.07,105.50 L342.68,105.50 L345.31,105.50 L347.94,105.50 L350.59,105.50 L353.26,105.50 L355.93,105.50 L358.62,105.50 L361.32,105.50 L364.03,105.50 L366.75,105.50 L369.49,105.50 L372.24,105.50 L375.00,105.50 L377.78,105.50 L380.56,105.50 L383.36,105.50 L386.18,105.50 L389.00,105.50 L391.84,105.50 L394.69,105.50 L397.55,105.50 L400.42,105.50 L403.31,105.50 L406.21,105.50 L409.12,105.50 L412.05,105.50 L414.99,105.50 L417.94,105.50 L420.90,105.50 L423.87,105.50 L426.86,105.50 L429.86,105.50 L432.88,105.50 L435.90,105.50 L438.94,105.50 L441.99,105.50 L445.06,105.50 L448.13,105.50 L451.22,105.50 L454.33,105.50 L457.44,105.50 L460.57,105.50 L463.71,105.50 L466.86,105.50 L470.03,105.50 L473.21,105.50 L476.40,105.50" stroke="rgb(51,255,51)" stroke-width="4.6"/>
<path d="M40.30,327.80 L40.30,327.78 L40.31,327.70 L40.32,327.56 L40.33,327.35 L40.35,327.06 L40.38,326.70 L40.41,326.26 L40.45,325.73 L40.49,325.13 L40.55,324.43 L40.60,323.66 L40.67,322.79 L40.74,321.84 L40.81,320.81 L40.90,319.68 L40.99,318.47 L41.09,317.17 L41.19,315.79 L41.31,314.32 L41.43,312.77 L41.56,311.14 L41.69,309.42 L41.83,307.63 L41.98,305.75 L42.14,303.80 L42.31,301.77 L42.48,299.67 L42.66,297.50 L42.85,295.26 L43.05,292.96 L43.26,290.59 L43.47,288.15 L43.69,285.66 L43.92,283.12 L44.16,280.52 L44.41,277.87 L44.66,275.17 L44.93,272.42 L45.20,269.64 L45.48,266.81 L45.77,263.95 L46.07,261.05 L46.38,258.13 L46.69,255.17 L47.01,252.20 L47.35,249.20 L47.69,246.18 L48.04,243.15 L48.40,240.10 L48.77,237.04 L49.14,233.98 L49.53,230.91 L49.92,227.84 L50.33,224.78 L50.74,221.71 L51.16,218.66 L51.59,215.61 L52.03,212.57 L52.48,209.55 L52.94,206.55 L53.41,203.56 L53.89,200.59 L54.38,197.65 L54.87,194.73 L55.38,191.84 L55.89,188.98 L56.42,186.15 L56.95,183.35 L57.49,180.58 L58.05,177.86 L58.61,175.16 L59.18,172.51 L59.76,169.90 L60.36,167.33 L60.96,164.80 L61.57,162.31 L62.19,159.87 L62.82,157.47 L63.46,155.12 L64.11,152.82 L64.77,150.56 L65.44,148.35 L66.12,146.19 L66.81,144.08 L67.50,142.02 L68.21,140.01 L68.93,138.04 L69.66,136.13 L70.40,134.27 L71.15,132.45 L71.91,130.68 L72.68,128.97 L73.46,127.30 L74.25,125.68 L75.05,124.11 L75.86,122.59 L76.68,121.11 L77.51,119.69 L78.35,118.30 L79.20,116.97 L80.06,115.68 L80.93,114.43 L81.81,113.23 L82.70,112.07 L83.60,110.95 L84.52,109.87 L85.44,108.83 L86.37,107.84 L87.32,106.88 L88.27,105.96 L89.24,105.07 L90.21,104.23 L91.20,103.41 L92.19,102.63 L93.20,101.89 L94.22,101.18 L95.25,100.49 L96.28,99.84 L97.33,99.22 L98.39,98.63 L99.46,98.06 L100.54,97.52 L101.64,97.01 L102.74,96.52 L103.85,96.06 L104.97,95.61 L106.11,95.19 L107.25,94.80 L108.41,94.42 L109.58,94.06 L110.76,93.72 L111.94,93.40 L113.14,93.09 L114.35,92.81 L115.58,92.53 L116.81,92.28 L118.05,92.04 L119.30,91.81 L120.57,91.59 L121.85,91.39 L123.13,91.20 L124.43,91.02 L125.74,90.85 L127.06,90.69 L128.39,90.54 L129.73,90.41 L131.09,90.27 L132.45,90.15 L133.83,90.04 L135.21,89.93 L136.61,89.83 L138.02,89.74 L139.44,89.65 L140.87,89.57 L142.31,89.49 L143.76,89.42 L145.23,89.35 L146.71,89.29 L148.19,89.23 L149.69,89.18 L151.20,89.13 L152.72,89.09 L154.25,89.04 L155.80,89.00 L157.35,88.97 L158.92,88.93 L160.50,88.90 L162.09,88.87 L163.69,88.85 L165.30,88.82 L166.92,88.80 L168.56,88.78 L170.20,88.76 L171.86,88.74 L173.53,88.72 L175.21,88.71 L176.90,88.70 L178.61,88.68 L180.32,88.67 L182.05,88.66 L183.79,88.65 L185.54,88.64 L187.30,88.63 L189.07,88.63 L190.86,88.62 L192.65,88.61 L194.46,88.61 L196.28,88.60 L198.11,88.60 L199.95,88.59 L201.81,88.59 L203.67,88.58 L205.55,88.58 L207.44,88.58 L209.34,88.58 L211.26,88.57 L213.18,88.57 L215.12,88.57 L217.06,88.57 L219.03,88.56 L221.00,88.56 L222.98,88.56 L224.98,88.56 L226.98,88.56 L229.00,88.56 L231.03,88.56 L233.08,88.56 L235.13,88.56 L237.20,88.56 L239.28,88.56 L241.37,88.55 L243.47,88.55 L245.58,88.55 L247.71,88.55 L249.85,88.55 L252.00,88.55 L254.16,88.55 L256.33,88.55 L258.52,88.55 L260.72,88.55 L262.93,88.55 L265.15,88.55 L267.39,88.55 L269.63,88.55 L271.89,88.55 L274.16,88.55 L276.44,88.55 L278.74,88.55 L281.05,88.55 L283.36,88.55 L285.69,88.55 L288.04,88.55 L290.39,88.55 L292.76,88.55 L295.14,88.55 L297.53,88.55 L299.94,88.55 L302.35,88.55 L304.78,88.55 L307.22,88.55 L309.67,88.55 L312.14,88.55 L314.62,88.55 L317.11,88.55 L319.61,88.55 L322.12,88.55 L324.65,88.55 L327.19,88.55 L329.74,88.55 L332.30,88.55 L334.88,88.55 L337.47,88.55 L340.07,88.55 L342.68,88.55 L345.31,88.55 L347.94,88.55 L350.59,88.55 L353.26,88.55 L355.93,88.55 L358.62,88.55 L361.32,88.55 L364.03,88.55 L366.75,88.55 L369.49,88.55 L372.24,88.55 L375.00,88.55 L377.78,88.55 L380.56,88.55 L383.36,88.55 L386.18,88.55 L389.00,88.55 L391.84,88.55 L394.69,88.55 L397.55,88.55 L400.42,88.55 L403.31,88.55 L406.21,88.55 L409.12,88.55 L412.05,88.55 L414.99,88.55 L417.94,88.55 L420.90,88.55 L423.87,88.55 L426.86,88.55 L429.86,88.55 L432.88,88.55 L435.90,88.55 L438.94,88.55 L441.99,88.55 L445.06,88.55 L448.13,88.55 L451.22,88.55 L454.33,88.55 L457.44,88.55 L460.57,88.55 L463.71,88.55 L466.86,88.55 L470.03,88.55 L473.21,88.55 L476.40,88.55" stroke="rgb(102,255,102)" stroke-width="4.6"/>
<path d="M40.30,327.80 L40.30,327.78 L40.31,327.70 L40.32,327.55 L40.33,327.32 L40.35,327.02 L40.38,326.64 L40.41,326.17 L40.45,325.62 L40.49,324.98 L40.55,324.25 L40.60,323.43 L40.67,322.52 L40.74,321.52 L40.81,320.42 L40.90,319.24 L40.99,317.96 L41.09,316.60 L41.19,315.14 L41.31,313.60 L41.43,311.96 L41.56,310.24 L41.69,308.44 L41.83,306.55 L41.98,304.58 L42.14,302.53 L42.31,300.40 L42.48,298.19 L42.66,295.91 L42.85,293.56 L43.05,291.15 L43.26,288.66 L43.47,286.11 L43.69,283.51 L43.92,280.84 L44.16,278.12 L44.41,275.35 L44.66,272.53 L44.93,269.66 L45.20,266.75 L45.48,263.80 L45.77,260.82 L46.07,257.80 L46.38,254.75 L46.69,251.68 L47.01,248.58 L47.35,245.47 L47.69,242.33 L48.04,239.18 L48.40,236.02 L48.77,232.86 L49.14,229.69 L49.53,226.51 L49.92,223.34 L50.33,220.17 L50.74,217.01 L51.16,213.85 L51.59,210.71 L52.03,207.59 L52.48,204.48 L52.94,201.39 L53.41,198.32 L53.89,195.28 L54.38,192.26 L54.87,189.27 L55.38,186.32 L55.89,183.39 L56.42,180.50 L56.95,177.65 L57.49,174.83 L58.05,172.05 L58.61,169.32 L59.18,166.62 L59.76,163.97 L60.36,161.37 L60.96,158.81 L61.57,156.30 L62.19,153.83 L62.82,151.41 L63.46,149.05 L64.11,146.73 L64.77,144.46 L65.44,142.25 L66.12,140.09 L66.81,137.97 L67.50,135.91 L68.21,133.90 L68.93,131.95 L69.66,130.04 L70.40,128.19 L71.15,126.39 L71.91,124.64 L72.68,122.95 L73.46,121.30 L74.25,119.71 L75.05,118.16 L75.86,116.66 L76.68,115.22 L77.51,113.82 L78.35,112.47 L79.20,111.16 L80.06,109.90 L80.93,108.69 L81.81,107.52 L82.70,106.40 L83.60,105.32 L84.52,104.28 L85.44,103.28 L86.37,102.32 L87.32,101.40 L88.27,100.51 L89.24,99.67 L90.21,98.86 L91.20,98.09 L92.19,97.35 L93.20,96.64 L94.22,95.96 L95.25,95.32 L96.28,94.70 L97.33,94.12 L98.39,93.56 L99.46,93.03 L100.54,92.53 L101.64,92.05 L102.74,91.59 L103.85,91.16 L104.97,90.75 L106.11,90.36 L107.25,90.00 L108.41,89.65 L109.58,89.32 L110.76,89.01 L111.94,88.71 L113.14,88.44 L114.35,88.18 L115.58,87.93 L116.81,87.70 L118.05,87.48 L119.30,87.27 L120.57,87.08 L121.85,86.90 L123.13,86.73 L124.43,86.57 L125.74,86.42 L127.06,86.28 L128.39,86.15 L129.73,86.02 L131.09,85.91 L132.45,85.80 L133.83,85.70 L135.21,85.61 L136.61,85.52 L138.02,85.44 L139.44,85.36 L140.87,85.29 L142.31,85.23 L143.76,85.17 L145.23,85.11 L146.71,85.06 L148.19,85.01 L149.69,84.96 L151.20,84.92 L152.72,84.88 L154.25,84.85 L155.80,84.82 L157.35,84.79 L158.92,84.76 L160.50,84.73 L162.09,84.71 L163.69,84.68 L165.30,84.66 L166.92,84.65 L168.56,84.63 L170.20,84.61 L171.86,84.60 L173.53,84.59 L175.21,84.57 L176.90,84.56 L178.61,84.55 L180.32,84.54 L182.05,84.53 L183.79,84.53 L185.54,84.52 L187.30,84.51 L189.07,84.51 L190.86,84.50 L192.65,84.50 L194.46,84.49 L196.28,84.49 L198.11,84.48 L199.95,84.48 L201.81,84.48 L203.67,84.48 L205.55,84.47 L207.44,84.47 L209.34,84.47 L211.26,84.47 L213.18,84.46 L215.12,84.46 L217.06,84.46 L219.03,84.46 L221.00,84.46 L222.98,84.46 L224.98,84.46 L226.98,84.46 L229.00,84.46 L231.03,84.46 L233.08,84.45 L235.13,84.45 L237.20,84.45 L239.28,84.45 L241.37,84.45 L243.47,84.45 L245.58,84.45 L247.71,84.45 L249.85,84.45 L252.00,84.45 L254.16,84.45 L256.33,84.45 L258.52,84.45 L260.72,84.45 L262.93,84.45 L265.15,84.45 L267.39,84.45 L269.63,84.45 L271.89,84.45 L274.16,84.45 L276.44,84.45 L278.74,84.45 L281.05,84.45 L283.36,84.45 L285.69,84.45 L288.04,84.45 L290.39,84.45 L292.76,84.45 L295.14,84.45 L297.53,84.45 L299.94,84.45 L302.35,84.45 L304.78,84.45 L307.22,84.45 L309.67,84.45 L312.14,84.45 L314.62,84.45 L317.11,84.45 L319.61,84.45 L322.12,84.45 L324.65,84.45 L327.19,84.45 L329.74,84.45 L332.30,84.45 L334.88,84.45 L337.47,84.45 L340.07,84.45 L342.68,84.45 L345.31,84.45 L347.94,84.45 L350.59,84.45 L353.26,84.45 L355.93,84.45 L358.62,84.45 L361.32,84.45 L364.03,84.45 L366.75,84.45 L369.49,84.45 L372.24,84.45 L375.00,84.45 L377.78,84.45 L380.56,84.45 L383.36,84.45 L386.18,84.45 L389.00,84.45 L391.84,84.45 L394.69,84.45 L397.55,84.45 L400.42,84.45 L403.31,84.45 L406.21,84.45 L409.12,84.45 L412.05,84.45 L414.99,84.45 L417.94,84.45 L420.90,84.45 L423.87,84.45 L426.86,84.45 L429.86,84.45 L432.88,84.45 L435.90,84.45 L438.94,84.45 L441.99,84.45 L445.06,84.45 L448.13,84.45 L451.22,84.45 L454.33,84.45 L457.44,84.45 L460.57,84.45 L463.71,84.45 L466.86,84.45 L470.03,84.45 L473.21,84.45 L476.40,84.45" stroke="rgb(153,255,153)" stroke-width="4.6"/>
<path d="M40.30,327.80 L40.30,327.78 L40.31,327.69 L40.32,327.53 L40.33,327.30 L40.35,326.98 L40.38,326.58 L40.41,326.09 L40.45,325.51 L40.49,324.84 L40.55,324.07 L40.60,323.21 L40.67,322.25 L40.74,321.20 L40.81,320.05 L40.90,318.81 L40.99,317.47 L41.09,316.03 L41.19,314.50 L41.31,312.87 L41.43,311.15 L41.56,309.34 L41.69,307.44 L41.83,305.45 L41.98,303.37 L42.14,301.21 L42.31,298.96 L42.48,296.63 L42.66,294.23 L42.85,291.75 L43.05,289.19 L43.26,286.57 L43.47,283.87 L43.69,281.11 L43.92,278.29 L44.16,275.41 L44.41,272.48 L44.66,269.49 L44.93,266.45 L45.20,263.37 L45.48,260.24 L45.77,257.07 L46.07,253.87 L46.38,250.63 L46.69,247.37 L47.01,244.08 L47.35,240.76 L47.69,237.43 L48.04,234.08 L48.40,230.72 L48.77,227.35 L49.14,223.97 L49.53,220.60 L49.92,217.22 L50.33,213.84 L50.74,210.47 L51.16,207.11 L51.59,203.77 L52.03,200.44 L52.48,197.12 L52.94,193.83 L53.41,190.56 L53.89,187.32 L54.38,184.10 L54.87,180.92 L55.38,177.77 L55.89,174.65 L56.42,171.57 L56.95,168.53 L57.49,165.53 L58.05,162.57 L58.61,159.66 L59.18,156.79 L59.76,153.97 L60.36,151.20 L60.96,148.47 L61.57,145.80 L62.19,143.18 L62.82,140.61 L63.46,138.10 L64.11,135.64 L64.77,133.23 L65.44,130.88 L66.12,128.58 L66.81,126.34 L67.50,124.16 L68.21,122.03 L68.93,119.96 L69.66,117.95 L70.40,115.99 L71.15,114.08 L71.91,112.24 L72.68,110.44 L73.46,108.71 L74.25,107.02 L75.05,105.39 L75.86,103.82 L76.68,102.29 L77.51,100.82 L78.35,99.40 L79.20,98.03 L80.06,96.71 L80.93,95.43 L81.81,94.21 L82.70,93.03 L83.60,91.90 L84.52,90.81 L85.44,89.76 L86.37,88.76 L87.32,87.80 L88.27,86.88 L89.24,86.00 L90.21,85.15 L91.20,84.35 L92.19,83.58 L93.20,82.84 L94.22,82.14 L95.25,81.47 L96.28,80.83 L97.33,80.23 L98.39,79.65 L99.46,79.10 L100.54,78.58 L101.64,78.08 L102.74,77.61 L103.85,77.17 L104.97,76.75 L106.11,76.35 L107.25,75.97 L108.41,75.61 L109.58,75.28 L110.76,74.96 L111.94,74.66 L113.14,74.37 L114.35,74.10 L115.58,73.85 L116.81,73.62 L118.05,73.39 L119.30,73.18 L120.57,72.99 L121.85,72.80 L123.13,72.63 L124.43,72.47 L125.74,72.32 L127.06,72.17 L128.39,72.04 L129.73,71.92 L131.09,71.80 L132.45,71.69 L133.83,71.59 L135.21,71.50 L136.61,71.41 L138.02,71.33 L139.44,71.25 L140.87,71.18 L142.31,71.12 L143.76,71.06 L145.23,71.00 L146.71,70.95 L148.19,70.90 L149.69,70.85 L151.20,70.81 L152.72,70.77 L154.25,70.74 L155.80,70.71 L157.35,70.68 L158.92,70.65 L160.50,70.62 L162.09,70.60 L163.69,70.58 L165.30,70.56 L166.92,70.54 L168.56,70.52 L170.20,70.51 L171.86,70.49 L173.53,70.48 L175.21,70.47 L176.90,70.46 L178.61,70.45 L180.32,70.44 L182.05,70.43 L183.79,70.42 L185.54,70.42 L187.30,70.41 L189.07,70.40 L190.86,70.40 L192.65,70.39 L194.46,70.39 L196.28,70.39 L198.11,70.38 L199.95,70.38 L201.81,70.38 L203.67,70.37 L205.55,70.37 L207.44,70.37 L209.34,70.37 L211.26,70.37 L213.18,70.36 L215.12,70.36 L217.06,70.36 L219.03,70.36 L221.00,70.36 L222.98,70.36 L224.98,70.36 L226.98,70.36 L229.00,70.36 L231.03,70.35 L233.08,70.35 L235.13,70.35 L237.20,70.35 L239.28,70.35 L241.37,70.35 L243.47,70.35 L245.58,70.35 L247.71,70.35 L249.85,70.35 L252.00,70.35 L254.16,70.35 L256.33,70.35 L258.52,70.35 L260.72,70.35 L262.93,70.35 L265.15,70.35 L267.39,70.35 L269.63,70.35 L271.89,70.35 L274.16,70.35 L276.44,70.35 L278.74,70.35 L281.05,70.35 L283.36,70.35 L285.69,70.35 L288.04,70.35 L290.39,70.35 L292.76,70.35 L295.14,70.35 L297.53,70.35 L299.94,70.35 L302.35,70.35 L304.78,70.35 L307.22,70.35 L309.67,70.35 L312.14,70.35 L314.62,70.35 L317.11,70.35 L319.61,70.35 L322.12,70.35 L324.65,70.35 L327.19,70.35 L329.74,70.35 L332.30,70.35 L334.88,70.35 L337.47,70.35 L340.07,70.35 L342.68,70.35 L345.31,70.35 L347.94,70.35 L350.59,70.35 L353.26,70.35 L355.93,70.35 L358.62,70.35 L361.32,70.35 L364.03,70.35 L366.75,70.35 L369.49,70.35 L372.24,70.35 L375.00,70.35 L377.78,70.35 L380.56,70.35 L383.36,70.35 L386.18,70.35 L389.00,70.35 L391.84,70.35 L394.69,70.35 L397.55,70.35 L400.42,70.35 L403.31,70.35 L406.21,70.35 L409.12,70.35 L412.05,70.35 L414.99,70.35 L417.94,70.35 L420.90,70.35 L423.87,70.35 L426.86,70.35 L429.86,70.35 L432.88,70.35 L435.90,70.35 L438.94,70.35 L441.99,70.35 L445.06,70.35 L448.13,70.35 L451.22,70.35 L454.33,70.35 L457.44,70.35 L460.57,70.35 L463.71,70.35 L466.86,70.35 L470.03,70.35 L473.21,70.35 L476.40,70.35" stroke="rgb(204,255,204)" stroke-width="4.6"/>
</g>
<g stroke="#666" stroke-width="0.5" fill="none">
<line x1="40.4" y1="58.2" x2="40.4" y2="327.85"/>
<line x1="40.05" y1="327.5" x2="476.4" y2="327.5"/>
</g>
<g stroke="#666" stroke-width="0.5" fill="none">
<line x1="54.38" y1="327.5" x2="54.38" y2="324.5"/>
<line x1="68.46" y1="327.5" x2="68.46" y2="324.5"/>
<line x1="82.54" y1="327.5" x2="82.54" y2="324.5"/>
<line x1="96.62" y1="327.5" x2="96.62" y2="324.5"/>
<line x1="110.70" y1="327.5" x2="110.70" y2="322.5"/>
<line x1="124.78" y1="327.5" x2="124.78" y2="324.5"/>
<line x1="138.86" y1="327.5" x2="138.86" y2="324.5"/>
<line x1="152.94" y1="327.5" x2="152.94" y2="324.5"/>
<line x1="167.02" y1="327.5" x2="167.02" y2="324.5"/>
<line x1="181.10" y1="327.5" x2="181.10" y2="322.5"/>
<line x1="195.18" y1="327.5" x2="195.18" y2="324.5"/>
<line x1="209.26" y1="327.5" x2="209.26" y2="324.5"/>
<line x1="223.34" y1="327.5" x2="223.34" y2="324.5"/>
<line x1="237.42" y1="327.5" x2="237.42" y2="324.5"/>
<line x1="251.50" y1="327.5" x2="251.50" y2="322.5"/>
<line x1="265.58" y1="327.5" x2="265.58" y2="324.5"/>
<line x1="279.66" y1="327.5" x2="279.66" y2="324.5"/>
<line x1="293.74" y1="327.5" x2="293.74" y2="324.5"/>
<line x1="307.82" y1="327.5" x2="307.82" y2="324.5"/>
<line x1="321.90" y1="327.5" x2="321.90" y2="322.5"/>
<line x1="335.98" y1="327.5" x2="335.98" y2="324.5"/>
<line x1="350.06" y1="327.5" x2="350.06" y2="324.5"/>
<line x1="364.14" y1="327.5" x2="364.14" y2="324.5"/>
<line x1="378.22" y1="327.5" x2="378.22" y2="324.5"/>
<line x1="392.30" y1="327.5" x2="392.30" y2="322.5"/>
<line x1="406.38" y1="327.5" x2="406.38" y2="324.5"/>
<line x1="420.46" y1="327.5" x2="420.46" y2="324.5"/>
<line x1="434.54" y1="327.5" x2="434.54" y2="324.5"/>
<line x1="448.62" y1="327.5" x2="448.62" y2="324.5"/>
<line x1="462.70" y1="327.5" x2="462.70" y2="322.5"/>
<line x1="40.4" y1="320.33" x2="43.4" y2="320.33"/>
<line x1="40.4" y1="312.85" x2="43.4" y2="312.85"/>
<line x1="40.4" y1="305.38" x2="43.4" y2="305.38"/>
<line x1="40.4" y1="297.90" x2="43.4" y2="297.90"/>
<line x1="40.4" y1="290.43" x2="45.4" y2="290.43"/>
<line x1="40.4" y1="282.96" x2="43.4" y2="282.96"/>
<line x1="40.4" y1="275.48" x2="43.4" y2="275.48"/>
<line x1="40.4" y1="268.01" x2="43.4" y2="268.01"/>
<line x1="40.4" y1="260.53" x2="43.4" y2="260.53"/>
<line x1="40.4" y1="253.06" x2="45.4" y2="253.06"/>
<line x1="40.4" y1="245.59" x2="43.4" y2="245.59"/>
<line x1="40.4" y1="238.11" x2="43.4" y2="238.11"/>
<line x1="40.4" y1="230.64" x2="43.4" y2="230.64"/>
<line x1="40.4" y1="223.16" x2="43.4" y2="223.16"/>
<line x1="40.4" y1="215.69" x2="45.4" y2="215.69"/>
<line x1="40.4" y1="208.22" x2="43.4" y2="208.22"/>
<line x1="40.4" y1="200.74" x2="43.4" y2="200.74"/>
<line x1="40.4" y1="193.27" x2="43.4" y2="193.27"/>
<line x1="40.4" y1="185.79" x2="43.4" y2="185.79"/>
<line x1="40.4" y1="178.32" x2="45.4" y2="178.32"/>
<line x1="40.4" y1="170.85" x2="43.4" y2="170.85"/>
<line x1="40.4" y1="163.37" x2="43.4" y2="163.37"/>
<line x1="40.4" y1="155.90" x2="43.4" y2="155.90"/>
<line x1="40.4" y1="148.42" x2="43.4" y2="148.42"/>
<line x1="40.4" y1="140.95" x2="45.4" y2="140.95"/>
<line x1="40.4" y1="133.48" x2="43.4" y2="133.48"/>
<line x1="40.4" y1="126.00" x2="43.4" y2="126.00"/>
<line x1="40.4" y1="118.53" x2="43.4" y2="118.53"/>
<line x1="40.4" y1="111.05" x2="43.4" y2="111.05"/>
<line x1="40.4" y1="103.58" x2="45.4" y2="103.58"/>
<line x1="40.4" y1="96.11" x2="43.4" y2="96.11"/>
<line x1="40.4" y1="88.63" x2="43.4" y2="88.63"/>
<line x1="40.4" y1="81.16" x2="43.4" y2="81.16"/>
<line x1="40.4" y1="73.68" x2="43.4" y2="73.68"/>
<line x1="40.4" y1="66.21" x2="45.4" y2="66.21"/>
<line x1="40.4" y1="58.74" x2="43.4" y2="58.74"/>
</g>
<g font-size="21.5" fill="#000">
<text x="36.5" y="332.20" text-anchor="end">0.00</text>
<text x="36.5" y="294.83" text-anchor="end">0.05</text>
<text x="36.5" y="257.46" text-anchor="end">0.10</text>
<text x="36.5" y="220.09" text-anchor="end">0.15</text>
<text x="36.5" y="182.72" text-anchor="end">0.20</text>
<text x="36.5" y="145.35" text-anchor="end">0.25</text>
<text x="36.5" y="107.98" text-anchor="end">0.30</text>
<text x="36.5" y="70.61" text-anchor="end">0.35</text>
<text x="40.40" y="347.9" text-anchor="middle">0.0</text>
<text x="110.80" y="347.9" text-anchor="middle">0.5</text>
<text x="181.20" y="347.9" text-anchor="middle">1.0</text>
<text x="251.60" y="347.9" text-anchor="middle">1.5</text>
<text x="322.00" y="347.9" text-anchor="middle">2.0</text>
<text x="392.40" y="347.9" text-anchor="middle">2.5</text>
<text x="462.80" y="347.9" text-anchor="middle">3.0</text>
</g>
<g fill="#666">
<text x="258.2" y="18.4" text-anchor="middle" font-size="26"><tspan font-style="italic">μ</tspan>=0.85</text>
<text y="42.6" font-size="23.5"><tspan x="20.2" font-style="italic">ϕ</tspan><tspan x="35.6">(</tspan><tspan x="43.0" font-style="italic">r</tspan><tspan x="53.5">)</tspan></text>
<text x="487.3" y="334.4" font-size="25" font-style="italic">r</text>
</g>
</svg></body></html>
